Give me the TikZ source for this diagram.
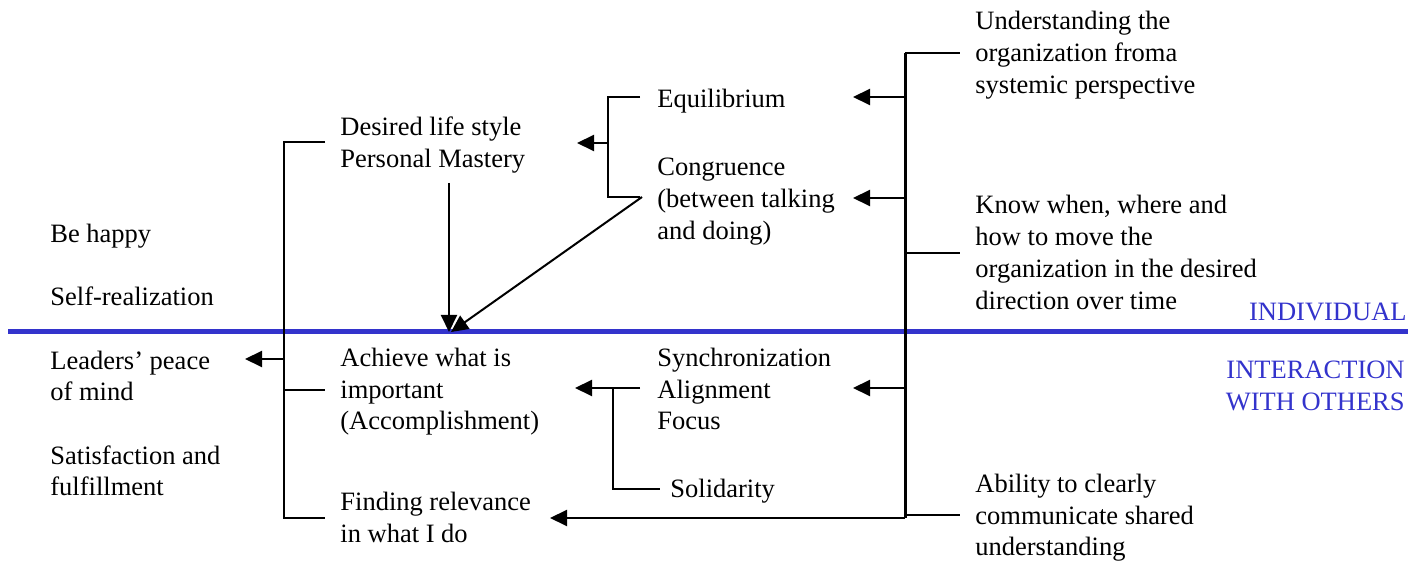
\documentclass[tikz,border=0pt]{standalone}
\usepackage{fontspec}
\setmainfont{Liberation Serif}
\usetikzlibrary{arrows.meta}
\definecolor{lineblue}{RGB}{51,51,204}
\begin{document}
\begin{tikzpicture}[x=0.5pt,y=-0.5pt,
  txt/.style={font=\fontsize{13.25}{16}\selectfont, align=left, inner sep=0pt, anchor=base west},
  bluetxt/.style={font=\fontsize{13.25}{16}\selectfont, align=right, inner sep=0pt, anchor=base east, text=lineblue},
  conn/.style={line width=1pt},
  thick conn/.style={line width=1.5pt},
  arr/.style={line width=1pt, -{Triangle[length=8.5pt,width=8pt]}}]
\useasboundingbox (0,0) rectangle (1421,561);

% texts (anchor = baseline of last line)
\node[txt] (dls) at (340,168) {Desired life style\\Personal Mastery};
\node[txt] (eq) at (657,108) {Equilibrium};
\node[txt] (cong) at (657,240) {Congruence\\(between talking\\and doing)};
\node[txt] (und) at (975,94) {Understanding the\\organization froma\\systemic perspective};
\node[txt] (know) at (975,310) {Know when, where and\\how to move the\\organization in the desired\\direction over time};
\node[txt] (happy) at (50,243) {Be happy};
\node[txt] (self) at (50,306) {Self-realization};
\node[txt] (lead) at (50,401) {Leaders’ peace\\of mind};
\node[txt] (sat) at (50,496) {Satisfaction and\\fulfillment};
\node[txt] (ach) at (340,430) {Achieve what is\\important\\(Accomplishment)};
\node[txt] (find) at (340,543) {Finding relevance\\in what I do};
\node[txt] (sync) at (657,430) {Synchronization\\Alignment\\Focus};
\node[txt] (sol) at (670,498) {Solidarity};
\node[txt] (abil) at (975,556) {Ability to clearly\\communicate shared\\understanding};
\node[bluetxt] (indiv) at (1407,321) {INDIVIDUAL};
\node[bluetxt] (inter) at (1405,411) {INTERACTION\\WITH OTHERS};

% blue divider
\coordinate (bl) at (8,332);
\coordinate (br) at (1408,332);
\draw[lineblue, line width=2.5pt] (bl) -- (br);

% right bracket
\coordinate (rT) at (905,53);
\coordinate (rB) at (905,518);
\coordinate (rK) at (905,253);
\coordinate (rA) at (905,515);
\draw[thick conn] (rT) -- (rB);
\draw[conn] (rT) -- (960,53);
\draw[conn] (rK) -- (960,253);
\draw[conn] (rA) -- (960,515);
\coordinate (r1) at (905,97);
\coordinate (r2) at (905,198);
\coordinate (r3) at (905,388);
\coordinate (t1) at (853,97);
\coordinate (t2) at (853,198);
\coordinate (t3) at (853,388);
\coordinate (t4) at (550,518);
\draw[arr] (r1) -- (t1);
\draw[arr] (r2) -- (t2);
\draw[arr] (r3) -- (t3);
\draw[arr] (rB) -- (t4);

% upper middle bracket
\coordinate (uT) at (608,97);
\coordinate (uB) at (608,197);
\coordinate (uM) at (608,143);
\coordinate (uA) at (577,143);
\draw[conn] (640,97) -- (uT) -- (uB) -- (640,197);
\draw[arr] (uM) -- (uA);

% arrows converging on divider
\coordinate (cd) at (642,197);
\coordinate (dd) at (449,183);
\coordinate (meet) at (451,332);
\draw[arr] (cd) -- (meet);
\draw[arr] (dd) -- (449,332);

% lower middle bracket
\coordinate (lT) at (613,388);
\coordinate (lB) at (613,489);
\coordinate (lA) at (575,388);
\draw[conn] (640,388) -- (lT) -- (lB) -- (660,489);
\draw[arr] (lT) -- (lA);

% left bracket
\coordinate (kT) at (284,142);
\coordinate (kB) at (284,518);
\coordinate (kM) at (284,390);
\coordinate (kA) at (284,359);
\coordinate (kTip) at (245,359);
\draw[conn] (325,142) -- (kT) -- (kB) -- (325,518);
\draw[conn] (kM) -- (325,390);
\draw[arr] (kA) -- (kTip);
\end{tikzpicture}
\end{document}
